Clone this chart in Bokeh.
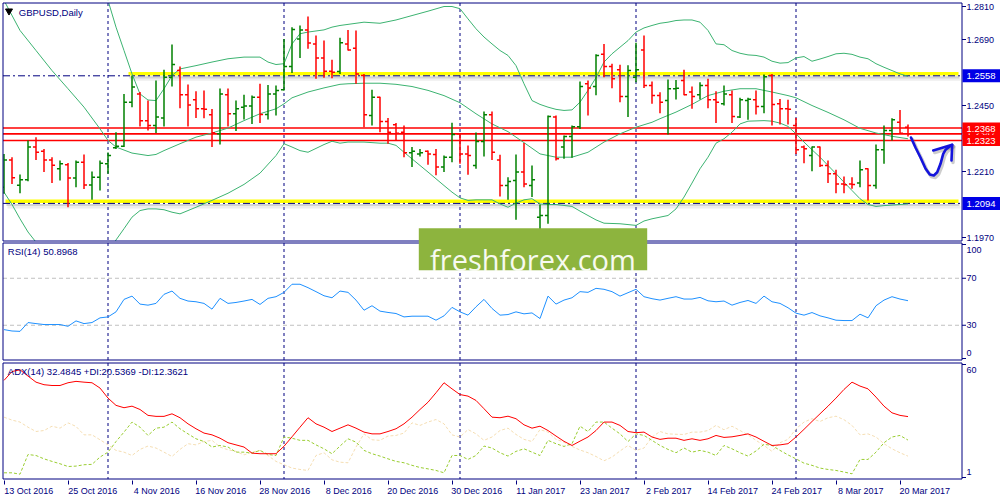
from bokeh.plotting import figure
from bokeh.models import Range1d, LinearAxis, FixedTicker, ColumnDataSource
from bokeh.core.properties import value
from bokeh.embed import file_html
from bokeh.resources import INLINE

# ------------------------------------------------------------------ data
symbol = "GBPUSD,Daily"
rsi_caption = "RSI(14) 50.8968"
adx_caption = "ADX(14) 32.4845 +DI:20.5369 -DI:12.3621"
watermark = "freshforex.com"

date_ticks = ["13 Oct 2016", "25 Oct 2016", "4 Nov 2016", "16 Nov 2016", "28 Nov 2016",
              "8 Dec 2016", "20 Dec 2016", "30 Dec 2016", "11 Jan 2017", "23 Jan 2017",
              "2 Feb 2017", "14 Feb 2017", "24 Feb 2017", "8 Mar 2017", "20 Mar 2017"]
date_tick_bars = [0, 8, 16, 24, 32, 40, 48, 56, 64, 72, 80, 88, 96, 104, 112]
month_start_bars = [13, 35, 57, 79, 99]

open_ = [1.2153, 1.2252, 1.2160, 1.2180, 1.2299, 1.2284, 1.2252, 1.2220, 1.2235, 1.2186,
         1.2244, 1.2161, 1.2189, 1.2238, 1.2296, 1.2302, 1.2462, 1.2492, 1.2395, 1.2377,
         1.2405, 1.2553, 1.2577, 1.2489, 1.2471, 1.2438, 1.2416, 1.2347, 1.2489, 1.2420,
         1.2444, 1.2448, 1.2480, 1.2417, 1.2492, 1.2507, 1.2592, 1.2692, 1.2725, 1.2674,
         1.2623, 1.2575, 1.2574, 1.2674, 1.2658, 1.2559, 1.2414, 1.2480, 1.2392, 1.2380,
         1.2353, 1.2278, 1.2274, 1.2284, 1.2272, 1.2226, 1.2262, 1.2347, 1.2274, 1.2232,
         1.2319, 1.2416, 1.2252, 1.2159, 1.2177, 1.2208, 1.2159, 1.2044, 1.2050, 1.2408,
         1.2299, 1.2337, 1.2373, 1.2529, 1.2519, 1.2636, 1.2592, 1.2580, 1.2483, 1.2553,
         1.2652, 1.2523, 1.2486, 1.2468, 1.2511, 1.2541, 1.2499, 1.2489, 1.2523, 1.2471,
         1.2456, 1.2489, 1.2408, 1.2468, 1.2471, 1.2446, 1.2559, 1.2456, 1.2438, 1.2377,
         1.2299, 1.2268, 1.2299, 1.2232, 1.2202, 1.2165, 1.2165, 1.2168, 1.2220, 1.2159,
         1.2289, 1.2359, 1.2389, 1.2371]
high = [1.2274, 1.2262, 1.2199, 1.2323, 1.2335, 1.2292, 1.2262, 1.2250, 1.2241, 1.2250,
        1.2272, 1.2210, 1.2250, 1.2279, 1.2353, 1.2492, 1.2559, 1.2499, 1.2468, 1.2541,
        1.2580, 1.2672, 1.2592, 1.2526, 1.2502, 1.2505, 1.2437, 1.2512, 1.2512, 1.2468,
        1.2489, 1.2486, 1.2529, 1.2525, 1.2523, 1.2692, 1.2735, 1.2741, 1.2774, 1.2705,
        1.2686, 1.2616, 1.2696, 1.2725, 1.2723, 1.2565, 1.2507, 1.2482, 1.2405, 1.2386,
        1.2377, 1.2299, 1.2292, 1.2286, 1.2292, 1.2268, 1.2387, 1.2349, 1.2305, 1.2352,
        1.2428, 1.2428, 1.2271, 1.2189, 1.2272, 1.2314, 1.2232, 1.2090, 1.2414, 1.2414,
        1.2341, 1.2377, 1.2537, 1.2541, 1.2636, 1.2674, 1.2602, 1.2598, 1.2596, 1.2678,
        1.2705, 1.2537, 1.2498, 1.2545, 1.2543, 1.2580, 1.2519, 1.2535, 1.2547, 1.2502,
        1.2523, 1.2505, 1.2478, 1.2478, 1.2505, 1.2563, 1.2565, 1.2474, 1.2471, 1.2405,
        1.2305, 1.2301, 1.2301, 1.2250, 1.2216, 1.2192, 1.2189, 1.2250, 1.2222, 1.2308,
        1.2377, 1.2404, 1.2434, 1.2381]
low = [1.2129, 1.2165, 1.2131, 1.2175, 1.2252, 1.2208, 1.2168, 1.2177, 1.2080, 1.2153,
       1.2146, 1.2107, 1.2141, 1.2202, 1.2292, 1.2299, 1.2444, 1.2374, 1.2359, 1.2350,
       1.2374, 1.2519, 1.2440, 1.2374, 1.2405, 1.2404, 1.2299, 1.2308, 1.2374, 1.2357,
       1.2399, 1.2383, 1.2386, 1.2399, 1.2414, 1.2505, 1.2568, 1.2623, 1.2656, 1.2547,
       1.2551, 1.2549, 1.2565, 1.2650, 1.2529, 1.2371, 1.2377, 1.2353, 1.2311, 1.2323,
       1.2262, 1.2226, 1.2265, 1.2235, 1.2196, 1.2208, 1.2244, 1.2238, 1.2198, 1.2220,
       1.2265, 1.2252, 1.2119, 1.2107, 1.2035, 1.2153, 1.2117, 1.1986, 1.2020, 1.2250,
       1.2256, 1.2260, 1.2365, 1.2414, 1.2487, 1.2553, 1.2513, 1.2462, 1.2408, 1.2535,
       1.2514, 1.2456, 1.2422, 1.2345, 1.2472, 1.2487, 1.2438, 1.2472, 1.2440, 1.2386,
       1.2450, 1.2386, 1.2405, 1.2398, 1.2417, 1.2422, 1.2377, 1.2381, 1.2381, 1.2274,
       1.2240, 1.2211, 1.2226, 1.2168, 1.2131, 1.2131, 1.2147, 1.2153, 1.2105, 1.2147,
       1.2238, 1.2323, 1.2347, 1.2337]
close = [1.2252, 1.2187, 1.2180, 1.2299, 1.2280, 1.2252, 1.2233, 1.2238, 1.2186, 1.2244,
         1.2161, 1.2189, 1.2240, 1.2268, 1.2302, 1.2462, 1.2517, 1.2395, 1.2377, 1.2408,
         1.2553, 1.2599, 1.2489, 1.2452, 1.2438, 1.2436, 1.2351, 1.2492, 1.2420, 1.2438,
         1.2448, 1.2480, 1.2417, 1.2492, 1.2505, 1.2592, 1.2726, 1.2725, 1.2677, 1.2623,
         1.2575, 1.2571, 1.2678, 1.2652, 1.2565, 1.2416, 1.2480, 1.2392, 1.2353, 1.2349,
         1.2278, 1.2284, 1.2278, 1.2274, 1.2226, 1.2262, 1.2345, 1.2274, 1.2268, 1.2319,
         1.2416, 1.2280, 1.2159, 1.2174, 1.2208, 1.2165, 1.2180, 1.2050, 1.2410, 1.2256,
         1.2337, 1.2373, 1.2519, 1.2514, 1.2632, 1.2592, 1.2547, 1.2483, 1.2577, 1.2580,
         1.2523, 1.2486, 1.2462, 1.2511, 1.2513, 1.2489, 1.2483, 1.2523, 1.2471, 1.2462,
         1.2492, 1.2410, 1.2471, 1.2473, 1.2446, 1.2555, 1.2454, 1.2438, 1.2436, 1.2289,
         1.2293, 1.2299, 1.2232, 1.2202, 1.2165, 1.2162, 1.2163, 1.2216, 1.2159, 1.2289,
         1.2359, 1.2398, 1.2349, 1.2347]

# Bollinger bands (20, 2): (bar, value)
bb_upper = [(0, 1.3500), (4, 1.3350), (8, 1.3150), (11, 1.2970), (13, 1.2832), (14, 1.2735),
            (15, 1.2650), (16, 1.2565), (17, 1.2492), (18, 1.2470), (19, 1.2468), (20, 1.2511),
            (21, 1.2559), (22, 1.2583), (24, 1.2595), (26, 1.2608), (28, 1.2620), (30, 1.2626),
            (32, 1.2626), (33, 1.2608), (34, 1.2599), (35, 1.2602), (36, 1.2674), (37, 1.2711),
            (38, 1.2717), (40, 1.2725), (41, 1.2735), (42, 1.2741), (43, 1.2745), (45, 1.2753),
            (47, 1.2749), (49, 1.2761), (51, 1.2777), (53, 1.2793), (55, 1.2810), (56, 1.2810),
            (57, 1.2802), (58, 1.2765), (59, 1.2729), (60, 1.2699), (61, 1.2674), (62, 1.2650),
            (63, 1.2632), (64, 1.2595), (65, 1.2529), (66, 1.2468), (67, 1.2454), (68, 1.2444),
            (69, 1.2436), (70, 1.2432), (71, 1.2434), (72, 1.2462), (73, 1.2505), (74, 1.2551),
            (75, 1.2608), (76, 1.2638), (77, 1.2662), (78, 1.2686), (79, 1.2717), (80, 1.2732),
            (81, 1.2741), (82, 1.2749), (83, 1.2753), (84, 1.2759), (85, 1.2761), (86, 1.2761),
            (87, 1.2753), (88, 1.2723), (89, 1.2674), (90, 1.2671), (91, 1.2650), (92, 1.2640),
            (93, 1.2634), (94, 1.2632), (95, 1.2626), (96, 1.2611), (97, 1.2604), (98, 1.2606),
            (99, 1.2623), (100, 1.2628), (101, 1.2611), (102, 1.2619), (103, 1.2628), (104, 1.2638),
            (105, 1.2640), (106, 1.2636), (107, 1.2626), (108, 1.2620), (109, 1.2602), (110, 1.2589),
            (111, 1.2577), (112, 1.2565), (113, 1.2556)]
bb_middle = [(0, 1.2832), (2, 1.2723), (4, 1.2650), (6, 1.2577), (8, 1.2511), (10, 1.2444),
             (12, 1.2365), (13, 1.2323), (14, 1.2299), (16, 1.2277), (18, 1.2268), (19, 1.2272),
             (20, 1.2286), (22, 1.2311), (24, 1.2335), (26, 1.2350), (28, 1.2368), (30, 1.2395),
             (32, 1.2420), (34, 1.2438), (35, 1.2456), (36, 1.2478), (38, 1.2499), (40, 1.2514),
             (42, 1.2527), (43, 1.2529), (45, 1.2531), (47, 1.2531), (49, 1.2527), (51, 1.2519),
             (53, 1.2505), (55, 1.2486), (57, 1.2460), (59, 1.2420), (61, 1.2383), (63, 1.2355),
             (65, 1.2315), (67, 1.2274), (69, 1.2262), (71, 1.2262), (73, 1.2280), (75, 1.2317),
             (77, 1.2347), (79, 1.2371), (81, 1.2389), (82, 1.2402), (84, 1.2426), (86, 1.2454),
             (88, 1.2486), (90, 1.2502), (92, 1.2511), (94, 1.2511), (96, 1.2499), (98, 1.2486),
             (99, 1.2478), (101, 1.2450), (103, 1.2425), (105, 1.2398), (107, 1.2367), (109, 1.2350),
             (111, 1.2338), (113, 1.2329)]
bb_lower = [(0, 1.2135), (1, 1.2090), (2, 1.2038), (3, 1.1990), (4, 1.1953), (6, 1.1890),
            (8, 1.1860), (10, 1.1855), (12, 1.1880), (13, 1.1911), (14, 1.1961), (15, 1.2002),
            (16, 1.2044), (17, 1.2068), (18, 1.2074), (19, 1.2074), (20, 1.2071), (21, 1.2062),
            (22, 1.2056), (23, 1.2068), (24, 1.2080), (26, 1.2105), (28, 1.2131), (30, 1.2163),
            (32, 1.2204), (34, 1.2268), (35, 1.2311), (36, 1.2299), (37, 1.2286), (38, 1.2280),
            (40, 1.2308), (41, 1.2320), (42, 1.2313), (43, 1.2317), (45, 1.2317), (47, 1.2313),
            (48, 1.2313), (49, 1.2305), (50, 1.2280), (51, 1.2256), (53, 1.2208), (55, 1.2159),
            (56, 1.2135), (57, 1.2114), (58, 1.2105), (59, 1.2107), (61, 1.2107), (62, 1.2092),
            (63, 1.2080), (64, 1.2095), (65, 1.2107), (66, 1.2111), (67, 1.2092), (68, 1.2090),
            (69, 1.2090), (71, 1.2083), (72, 1.2066), (73, 1.2050), (74, 1.2034), (75, 1.2022),
            (77, 1.2020), (79, 1.2014), (80, 1.2030), (81, 1.2038), (82, 1.2044), (83, 1.2050),
            (84, 1.2074), (85, 1.2117), (86, 1.2168), (87, 1.2220), (88, 1.2262), (89, 1.2313),
            (90, 1.2329), (91, 1.2353), (92, 1.2383), (93, 1.2393), (95, 1.2395), (96, 1.2393),
            (97, 1.2386), (98, 1.2374), (99, 1.2347), (100, 1.2317), (101, 1.2289), (102, 1.2262),
            (103, 1.2232), (104, 1.2202), (105, 1.2171), (106, 1.2141), (107, 1.2111), (108, 1.2090),
            (109, 1.2083), (110, 1.2086), (112, 1.2090), (113, 1.2092)]

rsi = [26.3, 25.1, 24.8, 32.3, 31.4, 30.6, 30.6, 30.6, 29.1, 33.7,
       31.4, 32.3, 36.3, 37.1, 41.4, 52.0, 54.8, 48.0, 47.1, 48.6,
       56.3, 59.1, 52.9, 50.6, 50.0, 48.6, 43.7, 52.9, 48.6, 49.4,
       50.6, 52.0, 47.7, 52.9, 54.3, 58.0, 64.9, 64.9, 62.0, 58.6,
       55.1, 53.4, 59.1, 58.0, 51.4, 42.8, 46.6, 42.0, 40.9, 40.0,
       37.1, 37.7, 37.7, 37.7, 34.3, 38.0, 45.2, 41.4, 38.6, 45.7,
       52.0, 44.3, 38.6, 39.1, 41.4, 39.7, 40.5, 35.7, 54.8, 48.0,
       51.4, 53.4, 58.6, 58.0, 61.4, 60.6, 58.6, 54.8, 57.7, 60.6,
       54.3, 52.6, 51.4, 52.9, 54.3, 52.3, 52.3, 53.7, 50.8, 50.0,
       50.6, 47.1, 49.4, 51.1, 48.6, 54.8, 50.0, 48.6, 44.9, 40.3,
       38.6, 40.8, 38.0, 36.3, 34.3, 34.0, 34.0, 39.4, 36.3, 46.6,
       51.4, 54.3, 52.3, 50.8968]
rsi_levels = [30, 70]

adx = [50.9, 55.4, 56.3, 53.1, 50.0, 48.7, 48.3, 48.3, 49.7, 50.4,
       50.0, 49.7, 47.0, 41.9, 38.2, 37.0, 37.8, 36.1, 33.1, 32.6,
       32.6, 33.9, 31.9, 28.8, 26.3, 24.1, 23.2, 21.5, 19.2, 18.1,
       17.0, 13.9, 13.6, 13.6, 13.6, 17.4, 22.2, 27.1, 31.9, 28.8,
       27.1, 24.9, 26.6, 28.3, 26.6, 24.6, 23.7, 23.7, 24.9, 26.3,
       28.8, 32.2, 36.1, 39.8, 44.6, 49.7, 46.6, 43.7, 42.9, 40.7,
       36.5, 32.2, 31.9, 32.7, 31.4, 28.3, 26.6, 27.6, 25.4, 22.6,
       19.9, 17.8, 20.0, 22.1, 25.4, 29.7, 29.7, 28.0, 24.9, 24.3,
       24.6, 22.1, 20.9, 21.5, 21.5, 20.4, 21.2, 20.4, 21.2, 22.9,
       21.9, 22.2, 22.9, 23.7, 22.1, 19.9, 17.8, 18.1, 18.7, 22.1,
       26.0, 30.0, 33.9, 37.8, 41.9, 46.3, 50.0, 48.0, 46.6, 42.4,
       37.8, 34.4, 33.1, 32.4845]
plus_di = [3.9, 3.9, 3.2, 13.2, 12.7, 11.0, 9.7, 8.5, 7.1, 7.3,
           8.0, 8.2, 11.9, 14.4, 19.8, 24.6, 29.7, 27.1, 22.9, 26.6,
           27.1, 29.7, 26.3, 23.7, 21.2, 19.8, 17.0, 17.8, 17.0, 14.4,
           14.4, 13.9, 15.3, 13.2, 12.7, 22.1, 21.5, 20.4, 20.4, 18.1,
           16.1, 13.6, 17.5, 21.2, 19.5, 15.3, 13.6, 12.4, 11.0, 9.7,
           9.0, 7.7, 6.6, 5.9, 5.1, 3.9, 12.7, 12.7, 10.7, 12.7,
           17.5, 16.5, 14.1, 12.4, 14.8, 16.1, 14.4, 12.7, 20.4, 18.7,
           17.3, 18.7, 27.6, 24.9, 29.7, 29.7, 26.6, 23.7, 19.8, 23.7,
           22.9, 20.4, 17.8, 15.8, 14.1, 16.5, 14.4, 15.3, 14.4, 12.7,
           17.8, 16.1, 14.1, 12.4, 15.0, 18.4, 17.8, 15.3, 13.0, 11.0,
           8.8, 7.7, 6.3, 5.6, 5.1, 4.3, 3.4, 10.7, 10.7, 14.4,
           19.2, 22.1, 22.9, 20.5369]
minus_di = [32.2, 30.7, 29.7, 27.1, 24.9, 25.4, 27.6, 26.6, 29.3, 27.5,
            23.2, 23.2, 20.7, 18.1, 15.3, 14.4, 12.7, 15.8, 17.5, 16.5,
            14.4, 12.2, 15.8, 18.7, 18.1, 19.8, 20.4, 17.0, 15.6, 14.8,
            13.0, 14.4, 15.3, 12.7, 9.7, 8.0, 6.3, 5.6, 5.1, 12.7,
            14.1, 10.5, 9.3, 9.0, 17.0, 23.7, 20.7, 20.4, 22.6, 22.9,
            24.1, 29.3, 28.0, 29.7, 31.0, 28.8, 23.2, 22.1, 25.9, 23.7,
            20.4, 22.1, 25.4, 26.6, 23.4, 20.9, 19.8, 25.9, 24.6, 20.9,
            19.5, 17.3, 15.5, 14.1, 12.2, 10.0, 11.9, 15.0, 17.8, 15.3,
            16.5, 22.1, 24.9, 23.7, 23.5, 23.4, 24.6, 24.6, 25.4, 28.0,
            25.8, 27.6, 25.4, 23.2, 20.4, 17.8, 14.8, 19.2, 20.9, 26.3,
            29.7, 31.4, 30.0, 31.9, 32.7, 30.9, 28.0, 23.2, 23.7, 22.1,
            18.7, 16.1, 14.1, 12.3621]

support_levels = [1.2558, 1.2094]          # yellow zones (blue price boxes)
red_levels = [1.2368, 1.2347, 1.2323]       # red horizontal lines (red price boxes)
price_ticks = [1.2810, 1.2690, 1.2450, 1.2210, 1.1970]
rsi_ticks = [100, 70, 30, 0]
adx_ticks = [60, 1]

# ------------------------------------------------------------------ styles / layout
NAVY = "#000080"
UP, DOWN = "#008000", "#ff0000"
BB_COL = "#3cb371"
FONT = "Liberation Sans"

CANVAS_W, FRAME_H, AXIS_H = 1000, 480, 20
BAR0, BAR_W = 3.5, 8.0          # pixel column of bar 0, pixels per bar


def xi(px):
    return (px - BAR0) / BAR_W


LEFT, RIGHT = 2.5, 961.5
PANE_PRICE = (2.5, 240.5)
PANE_RSI = (242.5, 359.5)
PANE_ADX = (362.5, 478.5)
PRICE_MAP = (1.2810, 6.0, 1.1970, 237.0)
RSI_MAP = (100.0, 242.5, 0.0, 360.0)
ADX_MAP = (60.0, 362.0, 1.0, 478.0)
PPX = (PRICE_MAP[0] - PRICE_MAP[2]) / (PRICE_MAP[3] - PRICE_MAP[1])   # price per px


def to_px(v, m):
    v1, y1, v2, y2 = m
    return y1 + (v - v1) * (y2 - y1) / (v2 - v1)


def full_range(m):
    v1, y1, v2, y2 = m
    k = (v2 - v1) / (y2 - y1)
    return Range1d(start=v1 + k * (FRAME_H - y1), end=v1 + k * (0 - y1))


def clamp(v, lo, hi):
    return max(lo, min(hi, v))


XL, XR = xi(LEFT), xi(RIGHT)

p = figure(frame_width=CANVAS_W, frame_height=FRAME_H, output_backend="svg",
           toolbar_location=None,
           x_range=Range1d(xi(0), xi(CANVAS_W)), y_range=Range1d(FRAME_H, 0),
           x_axis_location=None, y_axis_location=None,
           min_border_left=0, min_border_right=0, min_border_top=0, min_border_bottom=AXIS_H,
           background_fill_color="white", border_fill_color="white",
           outline_line_color=None)
p.grid.visible = False
p.extra_y_ranges = {"price": full_range(PRICE_MAP), "rsi": full_range(RSI_MAP),
                    "adx": full_range(ADX_MAP)}

# period separators (price pane)
n_sep = len(month_start_bars)
p.segment(x0=month_start_bars, x1=month_start_bars, y0=[PANE_PRICE[0]] * n_sep,
          y1=[PANE_PRICE[1]] * n_sep, line_color=NAVY, line_dash="3 3", line_width=1)

# support / resistance zones
zone_start_px = [128, 5]
for lvl, sx in zip(support_levels, zone_start_px):
    p.quad(left=xi(sx + 1), right=xi(959), top=lvl - 0.5 * PPX, bottom=lvl - 2.7 * PPX,
           fill_color="#808080", fill_alpha=0.35, line_color=None, y_range_name="price")
    p.quad(left=xi(sx + 2), right=xi(960), top=lvl - 2.7 * PPX, bottom=lvl - 5.0 * PPX,
           fill_color="#909090", fill_alpha=0.15, line_color=None, y_range_name="price")
    p.quad(left=xi(sx), right=xi(958), top=lvl + 3.8 * PPX, bottom=lvl + 0.4 * PPX,
           fill_color="#ffff00", line_color=None, y_range_name="price")
    p.segment(x0=[XL], x1=[XR], y0=[lvl], y1=[lvl], line_color=NAVY, line_width=1,
              line_dash="7 3 2 3", y_range_name="price")

for lvl in red_levels:
    p.segment(x0=[XL], x1=[XR], y0=[lvl], y1=[lvl], line_color="#ff0000", line_width=1.6,
              y_range_name="price")

# Bollinger bands
for band in (bb_upper, bb_middle, bb_lower):
    p.line(x=[b for b, _ in band], y=[v for _, v in band], line_color=BB_COL, line_width=1,
           y_range_name="price")

# OHLC bars
TICK = 0.38
idx = list(range(len(close)))
src = ColumnDataSource(dict(
    x=idx, xl=[i - TICK for i in idx], xr=[i + TICK for i in idx],
    o=open_, h=high, l=low, c=close,
    col=[UP if c > o else DOWN for o, c in zip(open_, close)]))
p.segment("x", "l", "x", "h", source=src, line_color="col", line_width=1.5, y_range_name="price")
p.segment("xl", "o", "x", "o", source=src, line_color="col", line_width=1.5, y_range_name="price")
p.segment("x", "c", "xr", "c", source=src, line_color="col", line_width=1.5, y_range_name="price")

# hand-drawn arrow
arrow_px = [910.5, 915, 920, 925, 929.3, 933.3, 936.7, 940, 942.7, 945, 948.3, 951.7]
arrow_py = [137, 147, 157, 168, 174, 175, 171.7, 163.3, 153.3, 149.3, 146.7, 144.3]
head_px = [932.7, 951.7, 951]
head_py = [150, 144.3, 160]
for dx, dy, col, w, a in ((1.5, 2.0, "#707070", 3.5, 0.35), (0, 0, "#1414dc", 2.6, 1.0)):
    p.line(x=[xi(v + dx) for v in arrow_px], y=[v + dy for v in arrow_py], line_color=col,
           line_width=w, line_alpha=a, line_cap="round", line_join="round")
    p.line(x=[xi(v + dx) for v in head_px], y=[v + dy for v in head_py], line_color=col,
           line_width=w, line_alpha=a, line_cap="round", line_join="round")

# mask what overflows the price pane
for l, r, t, b in ((xi(0), xi(CANVAS_W), PANE_PRICE[1], FRAME_H + 2),
                   (xi(0), xi(CANVAS_W), -2, PANE_PRICE[0]),
                   (xi(-2), XL, -2, FRAME_H + 2)):
    p.quad(left=l, right=r, top=t, bottom=b, fill_color="white", line_color=None)

# period separators (indicator panes)
for pane in (PANE_RSI, PANE_ADX):
    p.segment(x0=month_start_bars, x1=month_start_bars, y0=[pane[0]] * n_sep,
              y1=[pane[1]] * n_sep, line_color=NAVY, line_dash="3 3", line_width=1)

# RSI
p.segment(x0=[XL] * 2, x1=[XR] * 2, y0=rsi_levels, y1=rsi_levels, line_color="#c0c0c0",
          line_dash="4 3", line_width=1, y_range_name="rsi")
p.line(x=idx, y=rsi, line_color="#1e90ff", line_width=1, y_range_name="rsi")

# ADX
p.line(x=idx, y=minus_di, line_color="#f5deb3", line_width=1, line_dash="3 2", y_range_name="adx")
p.line(x=idx, y=plus_di, line_color="#9acd32", line_width=1, line_dash="3 2", y_range_name="adx")
p.line(x=idx, y=adx, line_color="#ff0000", line_width=1, y_range_name="adx")

# pane frames
for top, bot in (PANE_PRICE, PANE_RSI, PANE_ADX):
    p.quad(left=XL, right=XR, top=top, bottom=bot, fill_color=None, line_color=NAVY,
           line_width=1)

# captions
p.scatter(x=[xi(8.5)], y=[10.5], marker="inverted_triangle", size=7, color="black")
p.text(x=[xi(18.3), xi(7.3), xi(7.3)], y=[11.5, 251, 371],
       text=[symbol, rsi_caption, adx_caption], text_font=value(FONT), text_font_size="9.5px",
       text_color=NAVY, text_align="left", text_baseline="middle")

# watermark
p.quad(left=xi(418.3), right=xi(646.7), top=227.7, bottom=269.7, fill_color="#8db43e",
       line_color=None)
p.text(x=[xi(532.5)], y=[258.5], text=[watermark], text_font=value("Open Sans"),
       text_font_size="29px", text_color="#f7faf0", text_align="center",
       text_baseline="alphabetic")

# ---------------- right price scale (ticks, labels, price boxes)
tick_y, lab_y, lab_txt = [], [], []
for v in price_ticks:
    y = to_px(v, PRICE_MAP)
    tick_y.append(y); lab_y.append(y); lab_txt.append(f"{v:.4f}")
for ticks, m, pane, fmt in ((rsi_ticks, RSI_MAP, PANE_RSI, str), (adx_ticks, ADX_MAP, PANE_ADX, str)):
    for v in ticks:
        y = to_px(v, m)
        tick_y.append(clamp(y, pane[0] + 1.5, pane[1] - 1.5))
        lab_y.append(clamp(y, pane[0] + 7, pane[1] - 7))
        lab_txt.append(fmt(v))
p.segment(x0=[XR] * len(tick_y), x1=[xi(965.5)] * len(tick_y), y0=tick_y, y1=tick_y,
          line_color=NAVY, line_width=1)
p.text(x=[xi(966)] * len(lab_y), y=lab_y, text=lab_txt, text_font=value(FONT),
       text_font_size="9px", text_color=NAVY, text_align="left", text_baseline="middle")

boxes = [(1.2347, "#ff0000", 5.5), (1.2368, "#ff0000", 5.5), (1.2323, "#ff0000", 5.5),
         (1.2558, "#0000e6", 6.5), (1.2094, "#0000e6", 6.5)]
for lvl, col, half in boxes:
    y = to_px(lvl, PRICE_MAP)
    p.quad(left=xi(962), right=xi(999.5), top=y - half, bottom=y + half, fill_color=col,
           line_color=None)
    p.text(x=[xi(966)], y=[y + 0.5], text=[f"{lvl:.4f}"], text_font=value(FONT),
           text_font_size="9.5px", text_color="white", text_align="left",
           text_baseline="middle")

# ---------------- bottom date axis (labels start at the tick, MT4 style)
LABEL_SHIFT = 3.1
xpos = [b + LABEL_SHIFT for b in date_tick_bars]
xax = LinearAxis(ticker=FixedTicker(ticks=xpos, minor_ticks=date_tick_bars),
                 major_label_overrides=dict(zip(xpos, date_ticks)))
xax.axis_line_color = None
xax.major_tick_line_color = None
xax.major_tick_out = 2
xax.major_tick_in = 0
xax.minor_tick_line_color = NAVY
xax.minor_tick_out = 4
xax.minor_tick_in = 0
xax.major_label_standoff = 1
xax.major_label_text_font = FONT
xax.major_label_text_font_size = "9px"
xax.major_label_text_color = NAVY
p.add_layout(xax, "below")

open("out.html", "w").write(file_html(p, INLINE, "GBPUSD Daily"))
